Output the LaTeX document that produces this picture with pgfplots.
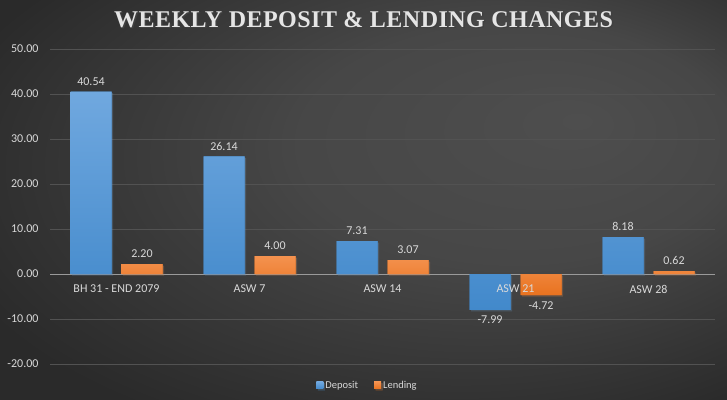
\documentclass[border=0pt]{standalone}
\usepackage{pgfplots}
\pgfplotsset{compat=1.18}
\usetikzlibrary{shadows}
\usepackage{fontspec}
\setmainfont{Carlito}
\newfontfamily\titlefont{Liberation Serif}
\definecolor{bgin}{HTML}{4E4E4E}
\definecolor{bgout}{HTML}{2A2A2A}
\definecolor{txt}{HTML}{D9D9D9}
\definecolor{gridc}{HTML}{525252}
\definecolor{zeroc}{HTML}{9A9A9A}
\definecolor{deptop}{HTML}{70A8DF}
\definecolor{depbot}{HTML}{4289CB}
\definecolor{lentop}{HTML}{F4924F}
\definecolor{lenbot}{HTML}{E8721F}
\pgfdeclareradialshading{bgshade}{\pgfpoint{15bp}{10bp}}{color(0bp)=(bgin); color(15bp)=(bgin!80!bgout); color(35bp)=(bgout); color(50bp)=(bgout)}
\begin{document}
\begin{tikzpicture}
\path[shading=bgshade] (0,0) rectangle (727pt,399pt);
\node[text=black!75, font=\titlefont\bfseries\fontsize{24}{26}\selectfont] at (365pt,378pt) {\addfontfeature{LetterSpace=2}WEEKLY DEPOSIT \& LENDING CHANGES};
\node[text=white!90!black, font=\titlefont\bfseries\fontsize{24}{26}\selectfont] at (363.5pt,379.5pt) {\addfontfeature{LetterSpace=2}WEEKLY DEPOSIT \& LENDING CHANGES};
\begin{axis}[
  at={(50pt,35pt)}, anchor=south west,
  scale only axis, width=665pt, height=315pt,
  ybar=10pt, bar width=41pt,
  xmin=-0.5, xmax=4.5, ymin=-20, ymax=50,
  ytick={-20,-10,0,10,20,30,40,50},
  xtick=data, xticklabels={},
  axis line style={draw=none},
  major tick length=0pt,
  ymajorgrids, grid style={gridc, line width=0.8pt},
  extra y ticks={0}, extra y tick labels={},
  extra y tick style={grid style={zeroc, line width=1pt}},
  yticklabel={\pgfmathprintnumber[fixed, fixed zerofill, precision=2]{\tick}},
  /pgf/number format/assume math mode=true,
  tick label style={text=txt, font=\fontsize{12}{14}\selectfont},
  y tick label style={xshift=-8pt},
  nodes near coords={\pgfmathprintnumber[fixed, fixed zerofill, precision=2]{\pgfplotspointmeta}},
  nodes near coords style={text=txt, font=\fontsize{12}{14}\selectfont, /pgf/number format/assume math mode=true, inner sep=6pt},
  legend style={at={(0.5,-35pt)}, anchor=south, xshift=-15pt, yshift=5pt, draw=none, fill=none, text=txt, font=\fontsize{10.5}{13}\selectfont, legend columns=2, /tikz/every even column/.append style={column sep=14pt}},
  legend image code/.code={\fill[#1] (0pt,-3.5pt) rectangle (7pt,3.5pt);},
]
\addplot[draw=none, fill=depbot, top color=deptop, bottom color=depbot, drop shadow={shadow xshift=1.5pt, shadow yshift=-1.5pt, opacity=0.18}] coordinates {(0,40.54) (1,26.14) (2,7.31) (3,-7.99) (4,8.18)};
\addplot[draw=none, fill=lenbot, top color=lentop, bottom color=lenbot, drop shadow={shadow xshift=1.5pt, shadow yshift=-1.5pt, opacity=0.18}] coordinates {(0,2.20) (1,4.00) (2,3.07) (3,-4.72) (4,0.62)};
\legend{Deposit, Lending}
\node[text=txt, font=\fontsize{12}{14}\selectfont] at (axis cs:0,0) [yshift=-15pt] {BH 31 - END 2079};
\node[text=txt, font=\fontsize{12}{14}\selectfont] at (axis cs:1,0) [yshift=-15pt] {ASW 7};
\node[text=txt, font=\fontsize{12}{14}\selectfont] at (axis cs:2,0) [yshift=-15pt] {ASW 14};
\node[text=txt, font=\fontsize{12}{14}\selectfont] at (axis cs:3,0) [yshift=-15pt] {ASW 21};
\node[text=txt, font=\fontsize{12}{14}\selectfont] at (axis cs:4,0) [yshift=-15pt] {ASW 28};
\end{axis}
\pgfresetboundingbox
\path (0,0) rectangle (727pt,399pt);
\end{tikzpicture}
\end{document}
